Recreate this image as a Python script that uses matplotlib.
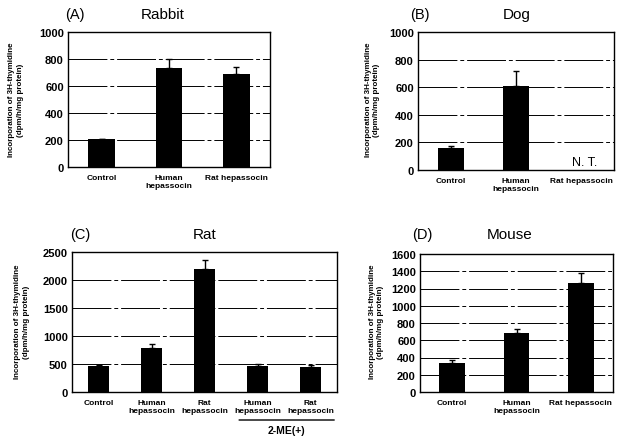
import matplotlib.pyplot as plt

plt.rcParams["font.family"] = ["Liberation Sans", "DejaVu Sans"]

W, H = 617, 439

# ---- data ----
rabbit_labels = ["Control", "Human\nhepassocin", "Rat hepassocin"]
rabbit_vals = [205, 730, 690]
rabbit_err = [6, 70, 50]

dog_labels = ["Control", "Human\nhepassocin", "Rat hepassocin"]
dog_vals = [160, 610]
dog_err = [15, 110]

rat_labels = ["Control", "Human\nhepassocin", "Rat\nhepassocin",
              "Human\nhepassocin", "Rat\nhepassocin"]
rat_vals = [460, 780, 2200, 460, 450]
rat_err = [15, 70, 150, 40, 40]

mouse_labels = ["Control", "Human\nhepassocin", "Rat hepassocin"]
mouse_vals = [340, 680, 1260]
mouse_err = [30, 50, 120]

YLABEL = "Incorporation of 3H-thymidine\n(dpm/h/mg protein)"
GRID_LS = (0, (40, 3, 4, 3))


def px_axes(fig, left, right, top, bottom):
    return fig.add_axes([left / W, 1 - bottom / H, (right - left) / W,
                         (bottom - top) / H])


def panel(ax, labels, vals, errs, ymax, step, grid_vals):
    n = len(labels)
    xs = list(range(len(vals)))
    for g in grid_vals:
        ax.axhline(g, color="black", lw=0.7, ls=GRID_LS, zorder=1)
    ax.bar(xs, vals, width=0.4, color="black", zorder=3)
    ax.errorbar(xs, vals, yerr=[[0] * len(vals), errs], fmt="none",
                ecolor="black", elinewidth=1, capsize=2.5, capthick=1,
                zorder=4)
    ax.set_xlim(-0.5, n - 0.5)
    ax.set_ylim(0, ymax)
    ax.set_yticks(range(0, ymax + 1, step))
    ax.set_xticks(range(n))
    ax.set_xticklabels(labels, fontsize=6, fontweight="bold")
    ax.tick_params(axis="x", length=0, pad=5)
    ax.tick_params(axis="y", length=0, labelsize=8, pad=3)
    for lab in ax.get_yticklabels():
        lab.set_fontweight("bold")
    for s in ax.spines.values():
        s.set_linewidth(1)


def titles(x_tag, x_name, y, tag, name):
    fig.text(x_tag / W, 1 - y / H, tag, fontsize=10.5, ha="center",
             va="center")
    fig.text(x_name / W, 1 - y / H, name, fontsize=11, ha="center",
             va="center")


def ylabel(x, y):
    fig.text(x / W, 1 - y / H, YLABEL, rotation=90, fontsize=5.8,
             fontweight="bold", ha="center", va="center", linespacing=1.2)


fig = plt.figure(figsize=(W / 100, H / 100), dpi=100)

# (A) Rabbit
ax = px_axes(fig, 68, 270, 33, 168)
panel(ax, rabbit_labels, rabbit_vals, rabbit_err, 1000, 200,
      [200, 400, 600, 800])
ylabel(16, 100)
titles(75, 163, 15, "(A)", "Rabbit")

# (B) Dog
ax = px_axes(fig, 418, 614, 33, 171)
panel(ax, dog_labels, dog_vals, dog_err, 1000, 200, [200, 400, 600, 800])
ax.text(2.05, 60, "N. T.", fontsize=9, ha="center", va="center")
ylabel(373, 100)
titles(420, 517, 15, "(B)", "Dog")

# (C) Rat
ax = px_axes(fig, 72, 337, 253, 393)
panel(ax, rat_labels, rat_vals, rat_err, 2500, 500,
      [500, 1000, 1500, 2000])
ax.annotate("", xy=(2.6, -0.2), xytext=(4.5, -0.2),
            xycoords=("data", "axes fraction"),
            arrowprops=dict(arrowstyle="-", lw=1, color="black"))
ax.text(3.55, -0.27, "2-ME(+)", fontsize=7.5, fontweight="bold",
        ha="center", va="center", transform=ax.get_xaxis_transform())
ylabel(22, 322)
titles(80, 205, 235, "(C)", "Rat")

# (D) Mouse
ax = px_axes(fig, 420, 613, 255, 393)
panel(ax, mouse_labels, mouse_vals, mouse_err, 1600, 200,
      [200, 400, 600, 800, 1000, 1200, 1400])
ylabel(376, 322)
titles(422, 510, 235, "(D)", "Mouse")

fig.savefig("out.png", dpi=100)
